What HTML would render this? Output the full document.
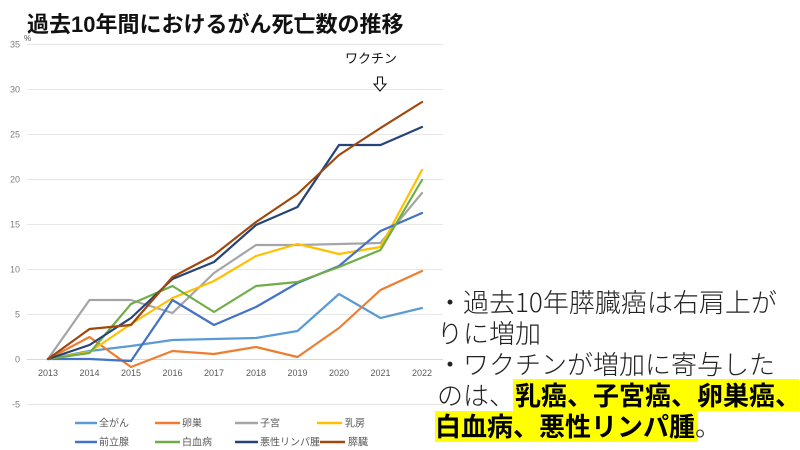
<!DOCTYPE html>
<html>
<head>
<meta charset="utf-8">
<style>
  html,body{margin:0;padding:0;background:#fff;}
  body{width:800px;height:450px;position:relative;overflow:hidden;font-family:"Liberation Sans","Noto Sans CJK JP",sans-serif;}
  .title{position:absolute;left:27px;top:13px;font-size:22px;line-height:24px;font-weight:bold;color:#111;white-space:nowrap;font-family:"Liberation Sans","Noto Sans CJK JP",sans-serif;}
  .vac{position:absolute;left:345px;top:51px;font-size:13px;line-height:16px;color:#111;white-space:nowrap;font-family:"Liberation Sans","Noto Sans CJK JP",sans-serif;}
  .ln{position:absolute;left:437px;font-size:26px;line-height:31px;height:31px;color:#222;font-weight:300;white-space:nowrap;font-family:"Noto Sans CJK JP","Liberation Sans",sans-serif;}
  .hl{position:absolute;background:#ffff00;}
  b{font-weight:bold;color:#000;}
</style>
</head>
<body>
<svg width="800" height="450" style="position:absolute;left:0;top:0" xmlns="http://www.w3.org/2000/svg">
  <g stroke="#e7e7e7" stroke-width="1">
    <line x1="27" y1="44.5" x2="443" y2="44.5"/>
    <line x1="27" y1="89.5" x2="443" y2="89.5"/>
    <line x1="27" y1="134.5" x2="443" y2="134.5"/>
    <line x1="27" y1="179.5" x2="443" y2="179.5"/>
    <line x1="27" y1="224.5" x2="443" y2="224.5"/>
    <line x1="27" y1="269.5" x2="443" y2="269.5"/>
    <line x1="27" y1="314.5" x2="443" y2="314.5"/>
    <line x1="27" y1="404.5" x2="443" y2="404.5"/>
  </g>
  <line x1="27" y1="359.5" x2="443" y2="359.5" stroke="#d9d9d9" stroke-width="1"/>
  <g font-family="Liberation Sans, sans-serif" font-size="9" fill="#7f7f7f" text-anchor="end">
    <text x="20" y="47.5">35</text>
    <text x="20" y="92.5">30</text>
    <text x="20" y="137.5">25</text>
    <text x="20" y="182.5">20</text>
    <text x="20" y="227.5">15</text>
    <text x="20" y="272.5">10</text>
    <text x="20" y="317.5">5</text>
    <text x="20" y="362.5">0</text>
    <text x="20" y="407.5">-5</text>
  </g>
  <text x="24" y="41" font-family="Liberation Sans, sans-serif" font-size="8" fill="#555">%</text>
  <g font-family="Liberation Sans, sans-serif" font-size="9" fill="#595959" text-anchor="middle">
    <text x="48" y="376">2013</text>
    <text x="89.5" y="376">2014</text>
    <text x="131" y="376">2015</text>
    <text x="172.5" y="376">2016</text>
    <text x="214" y="376">2017</text>
    <text x="256" y="376">2018</text>
    <text x="297.5" y="376">2019</text>
    <text x="339" y="376">2020</text>
    <text x="380.5" y="376">2021</text>
    <text x="422" y="376">2022</text>
  </g>
  <g fill="none" stroke-width="2.2" stroke-linejoin="round" stroke-linecap="round">
    <polyline stroke="#5b9bd5" points="48,359 89.5,351 131,346 172.5,340 214,339 256,338 297.5,331 339,294 380.5,318 422,308"/>
    <polyline stroke="#ed7d31" points="48,359 89.5,337 131,367 172.5,351 214,354 256,347 297.5,357 339,328 380.5,290 422,271"/>
    <polyline stroke="#a5a5a5" points="48,359 89.5,300 131,300 172.5,313 214,273 256,245 297.5,245 339,244 380.5,243 422,193"/>
    <polyline stroke="#ffc000" points="48,359 89.5,352 131,324 172.5,298 214,281 256,256 297.5,244 339,254 380.5,247 422,170"/>
    <polyline stroke="#4472c4" points="48,359 89.5,359 131,361 172.5,300 214,325 256,307 297.5,283 339,266 380.5,231 422,213"/>
    <polyline stroke="#70ad47" points="48,359 89.5,353 131,304 172.5,286 214,312 256,286 297.5,282 339,267 380.5,250 422,180"/>
    <polyline stroke="#264478" points="48,359 89.5,345 131,318 172.5,279 214,262 256,225 297.5,207 339,145 380.5,145 422,127"/>
    <polyline stroke="#9e480e" points="48,359 89.5,329 131,325 172.5,277 214,255 256,222 297.5,194 339,155 380.5,128 422,102"/>
  </g>
  <path d="M377.5,77 L382.5,77 L382.5,84 L386,84 L380,91 L374,84 L377.5,84 Z" fill="#fff" stroke="#111" stroke-width="1.1" stroke-linejoin="miter"/>
  <g stroke-width="2.5" fill="none">
    <line x1="75" y1="423" x2="97" y2="423" stroke="#5b9bd5"/>
    <line x1="155" y1="423" x2="180" y2="423" stroke="#ed7d31"/>
    <line x1="235" y1="423" x2="258" y2="423" stroke="#a5a5a5"/>
    <line x1="317" y1="423" x2="342" y2="423" stroke="#ffc000"/>
    <line x1="75" y1="442" x2="97" y2="442" stroke="#4472c4"/>
    <line x1="155" y1="442" x2="180" y2="442" stroke="#70ad47"/>
    <line x1="235" y1="442" x2="258" y2="442" stroke="#264478"/>
    <line x1="320" y1="442" x2="345" y2="442" stroke="#9e480e"/>
  </g>
  <g font-family="Liberation Sans, Noto Sans CJK JP, sans-serif" font-size="10" fill="#595959">
    <text x="99" y="426.5">全がん</text>
    <text x="182" y="426.5">卵巣</text>
    <text x="260" y="426.5">子宮</text>
    <text x="345" y="426.5">乳房</text>
    <text x="99" y="445.5">前立腺</text>
    <text x="182" y="445.5">白血病</text>
    <text x="260" y="445.5">悪性リンパ腫</text>
    <text x="348" y="445.5">膵臓</text>
  </g>
</svg>

<div class="title">過去10年間におけるがん死亡数の推移</div>
<div class="vac">ワクチン</div>

<div class="hl" style="left:513px;top:379px;width:286px;height:32px;"></div>
<div class="hl" style="left:435px;top:411px;width:263px;height:31px;"></div>

<div class="ln" style="top:286px;">・過去10年膵臓癌は右肩上が</div>
<div class="ln" style="top:317px;">りに増加</div>
<div class="ln" style="top:348px;">・ワクチンが増加に寄与した</div>
<div class="ln" style="top:379px;">のは、<b>乳癌、子宮癌、卵巣癌、</b></div>
<div class="ln" style="top:410px;left:435px;"><b>白血病、悪性リンパ腫</b>。</div>
</body>
</html>
